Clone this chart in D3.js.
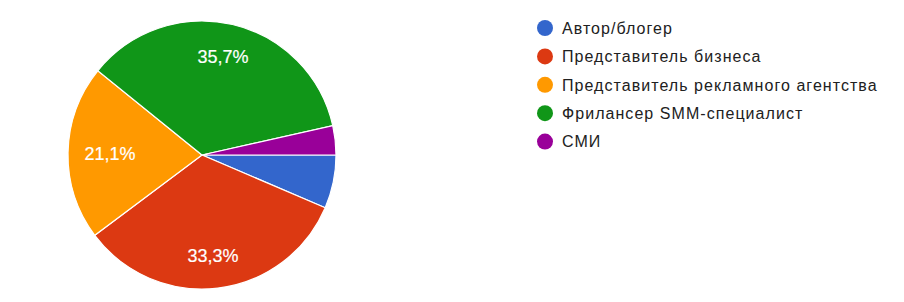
<!DOCTYPE html>
<html>
<head>
<meta charset="utf-8">
<script src="https://cdn.jsdelivr.net/npm/d3@7"></script>
<style>
  body { margin: 0; background: #fff; }
  svg { display: block; font-family: Arial, "Liberation Sans", sans-serif; }
</style>
</head>
<body>
<div class="visualisation"></div>
<script>
// chart data
const categories = ["Автор/блогер", "Представитель бизнеса", "Представитель рекламного агентства", "Фрилансер SMM-специалист", "СМИ"];
const counts = [11, 57, 36, 61, 6];
const colors = ["#3366cc", "#dc3912", "#ff9900", "#109618", "#990099"];

const width = 904;
const height = 302;
const cx = 202, cy = 155, radius = 134;

const svg = d3.select(".visualisation")
    .append("svg")
    .attr("width", width)
    .attr("height", height);

const total = d3.sum(counts);
const fmt = v => (Math.round(v / total * 1000) / 10).toFixed(1).replace(".", ",") + "%";

// start at 3 o'clock, go clockwise
const pie = d3.pie()
    .sort(null)
    .startAngle(Math.PI / 2)
    .endAngle(Math.PI / 2 + 2 * Math.PI);

const arc = d3.arc().innerRadius(0).outerRadius(radius);

const slices = pie(counts);

const g = svg.append("g").attr("transform", `translate(${cx},${cy})`);

g.selectAll("path.slice")
    .data(slices)
    .enter()
    .append("path")
    .attr("class", "slice")
    .attr("d", arc)
    .attr("fill", (d, i) => colors[i])
    .attr("stroke", "#fff")
    .attr("stroke-width", 1.2);

// label position: along the mid angle, a bit further out vertically
function labelPos(d) {
    const a = (d.startAngle + d.endAngle) / 2;
    return [Math.sin(a) * radius * 0.687, -Math.cos(a) * radius * 0.755];
}

// labels only for the larger slices
g.selectAll("text.pct")
    .data(slices.filter(d => d.value / total > 0.1))
    .enter()
    .append("text")
    .attr("class", "pct")
    .attr("transform", d => `translate(${labelPos(d)})`)
    .attr("text-anchor", "middle")
    .attr("dy", "0.36em")
    .attr("fill", "#fff")
    .attr("stroke", "#fff")
    .attr("stroke-width", 0.2)
    .style("font-size", "18px")
    .text(d => fmt(d.value));

// legend
const legend = svg.append("g").attr("transform", "translate(545,28)");
const rows = legend.selectAll("g.row")
    .data(categories)
    .enter()
    .append("g")
    .attr("class", "row")
    .attr("transform", (d, i) => `translate(0,${i * 28.4})`);

rows.append("circle")
    .attr("r", 8)
    .attr("fill", (d, i) => colors[i]);

rows.append("text")
    .attr("x", 17)
    .attr("dy", "0.36em")
    .attr("fill", "#212121")
    .style("font-size", "16px")
    .style("letter-spacing", "1.05px")
    .text(d => d);
</script>
</body>
</html>
